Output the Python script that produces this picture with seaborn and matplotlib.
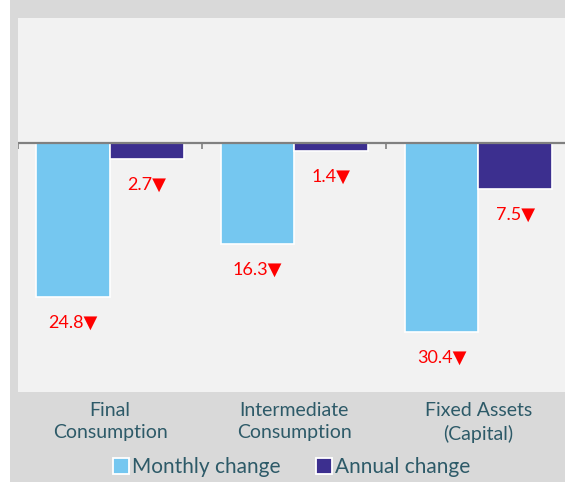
import pandas as pd
import matplotlib
matplotlib.use('Agg')
import matplotlib.pyplot as plt
import seaborn as sns
from matplotlib.patches import Rectangle
from matplotlib.lines import Line2D

categories = ['Final\nConsumption', 'Intermediate\nConsumption', 'Fixed Assets\n(Capital)']
series = ['Monthly change', 'Annual change']
monthly = [-24.8, -16.3, -30.4]
annual = [-2.7, -1.4, -7.5]
colors = ['#75c7f0', '#3c2f8f']
text_col = '#2d5a68'

df = pd.DataFrame({
    'category': categories * 2,
    'series': [series[0]] * 3 + [series[1]] * 3,
    'value': monthly + annual,
})

sns.set_style('white')
plt.rcParams['font.family'] = ['Lato', 'DejaVu Sans']

fig = plt.figure(figsize=(5.65, 4.82), dpi=100, facecolor='white')
# grey panel behind everything, leaving a thin white strip on the left
fig.patches.append(Rectangle((10 / 565, 0), 1, 1, transform=fig.transFigure,
                             facecolor='#d9d9d9', edgecolor='none', zorder=-10))
ax = fig.add_axes([18 / 565, 90 / 482, 1 - 18 / 565, 374 / 482])
ax.set_facecolor('#f2f2f2')

sns.barplot(data=df, x='category', y='value', hue='series', palette=colors,
            saturation=1, edgecolor='white', linewidth=1.2, width=0.8, ax=ax,
            legend=False)

ax.set_ylim(-40, 20)
ax.set_xlim(-0.5, 2.47)
ax.axhline(0, color='#808080', lw=1.6, zorder=5)
ax.vlines([-0.5, 0.5, 1.5], -1.0, 0, color='#808080', lw=1.2, zorder=5)

for cont in ax.containers:
    for bar in cont:
        h = bar.get_height()
        ax.annotate(f'{abs(h):.1f}\u25bc', (bar.get_x() + bar.get_width() / 2, h),
                    xytext=(0, -18.5), textcoords='offset points',
                    ha='center', va='center', color='#ff0000', fontsize=13)

for s in ax.spines.values():
    s.set_visible(False)
ax.set_yticks([])
ax.set_xlabel('')
ax.set_ylabel('')
ax.tick_params(axis='x', length=0, pad=7, labelsize=14, labelcolor=text_col)
for lab in ax.get_xticklabels():
    lab.set_linespacing(1.4)

handles = [Line2D([], [], marker='s', linestyle='none', markersize=11,
                  markerfacecolor=c, markeredgecolor='white', markeredgewidth=1.3)
           for c in colors]
fig.legend(handles, series, loc='center', bbox_to_anchor=(0.515, 0.031), ncol=2,
           frameon=False, fontsize=15, labelcolor=text_col, handletextpad=0.1,
           columnspacing=1.6, handlelength=0.9)

fig.savefig('out.png', dpi=100)
